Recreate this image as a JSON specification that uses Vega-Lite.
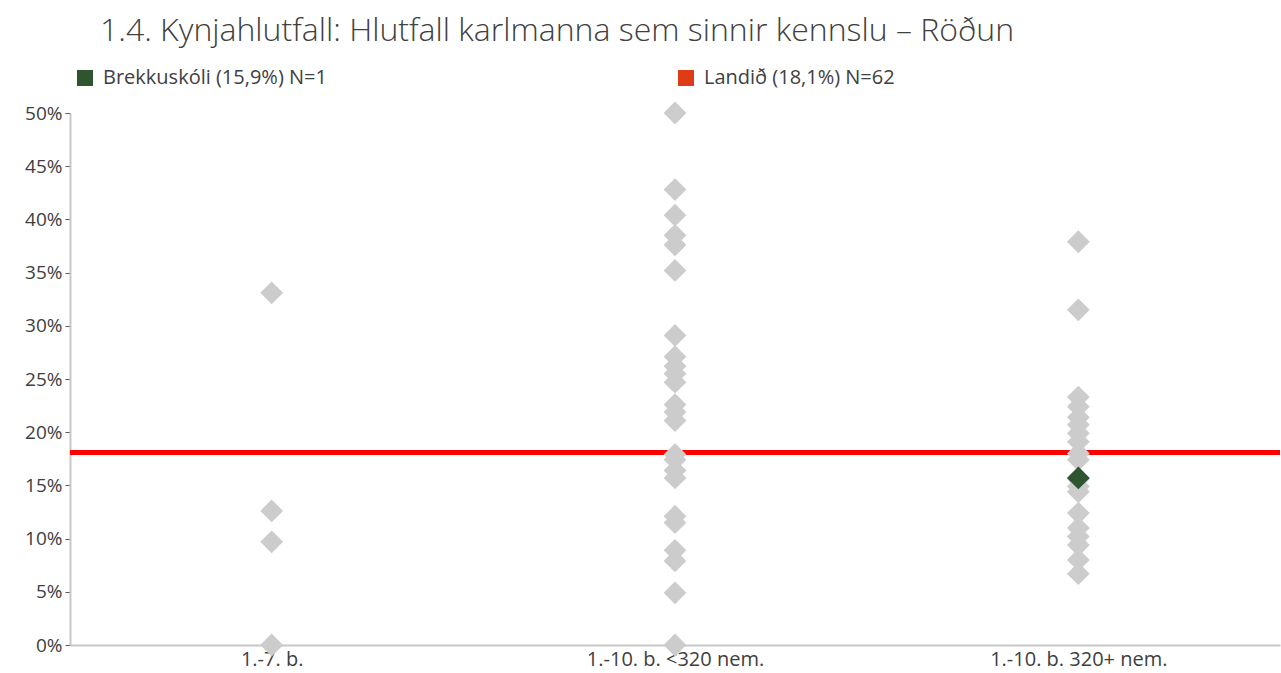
{
  "$schema": "https://vega.github.io/schema/vega-lite/v6.json",
  "autosize": {"type": "none"},
  "width": 1210,
  "height": 532,
  "padding": {"left": 70, "top": 113, "right": 1, "bottom": 28},
  "background": "white",
  "title": {
    "text": "1.4. Kynjahlutfall: Hlutfall karlmanna sem sinnir kennslu – Röðun",
    "anchor": "start",
    "frame": "group",
    "dx": 30,
    "offset": 20,
    "font": "Open Sans",
    "fontSize": 32,
    "fontWeight": 300,
    "color": "#404040"
  },
  "config": {
    "view": {"stroke": null},
    "font": "Open Sans"
  },
  "datasets": {
    "schools": [
      {"group": "1.-7. b.", "value": 0.331},
      {"group": "1.-7. b.", "value": 0.126},
      {"group": "1.-7. b.", "value": 0.097},
      {"group": "1.-7. b.", "value": 0.0},
      {"group": "1.-10. b. <320 nem.", "value": 0.5},
      {"group": "1.-10. b. <320 nem.", "value": 0.428},
      {"group": "1.-10. b. <320 nem.", "value": 0.404},
      {"group": "1.-10. b. <320 nem.", "value": 0.385},
      {"group": "1.-10. b. <320 nem.", "value": 0.376},
      {"group": "1.-10. b. <320 nem.", "value": 0.352},
      {"group": "1.-10. b. <320 nem.", "value": 0.291},
      {"group": "1.-10. b. <320 nem.", "value": 0.271},
      {"group": "1.-10. b. <320 nem.", "value": 0.262},
      {"group": "1.-10. b. <320 nem.", "value": 0.255},
      {"group": "1.-10. b. <320 nem.", "value": 0.247},
      {"group": "1.-10. b. <320 nem.", "value": 0.226},
      {"group": "1.-10. b. <320 nem.", "value": 0.219},
      {"group": "1.-10. b. <320 nem.", "value": 0.211},
      {"group": "1.-10. b. <320 nem.", "value": 0.179},
      {"group": "1.-10. b. <320 nem.", "value": 0.174},
      {"group": "1.-10. b. <320 nem.", "value": 0.164},
      {"group": "1.-10. b. <320 nem.", "value": 0.157},
      {"group": "1.-10. b. <320 nem.", "value": 0.121},
      {"group": "1.-10. b. <320 nem.", "value": 0.115},
      {"group": "1.-10. b. <320 nem.", "value": 0.089},
      {"group": "1.-10. b. <320 nem.", "value": 0.079},
      {"group": "1.-10. b. <320 nem.", "value": 0.049},
      {"group": "1.-10. b. <320 nem.", "value": 0.0},
      {"group": "1.-10. b. 320+ nem.", "value": 0.379},
      {"group": "1.-10. b. 320+ nem.", "value": 0.315},
      {"group": "1.-10. b. 320+ nem.", "value": 0.233},
      {"group": "1.-10. b. 320+ nem.", "value": 0.224},
      {"group": "1.-10. b. 320+ nem.", "value": 0.214},
      {"group": "1.-10. b. 320+ nem.", "value": 0.207},
      {"group": "1.-10. b. 320+ nem.", "value": 0.199},
      {"group": "1.-10. b. 320+ nem.", "value": 0.191},
      {"group": "1.-10. b. 320+ nem.", "value": 0.18},
      {"group": "1.-10. b. 320+ nem.", "value": 0.174},
      {"group": "1.-10. b. 320+ nem.", "value": 0.156},
      {"group": "1.-10. b. 320+ nem.", "value": 0.149},
      {"group": "1.-10. b. 320+ nem.", "value": 0.144},
      {"group": "1.-10. b. 320+ nem.", "value": 0.124},
      {"group": "1.-10. b. 320+ nem.", "value": 0.11},
      {"group": "1.-10. b. 320+ nem.", "value": 0.102},
      {"group": "1.-10. b. 320+ nem.", "value": 0.094},
      {"group": "1.-10. b. 320+ nem.", "value": 0.08},
      {"group": "1.-10. b. 320+ nem.", "value": 0.067}
    ],
    "school": [
      {"group": "1.-10. b. 320+ nem.", "value": 0.157, "label": "Brekkuskóli (15,9%) N=1"}
    ],
    "national": [
      {"value": 0.181, "label": "Landið (18,1%) N=62"}
    ]
  },
  "layer": [
    {
      "data": {"name": "national"},
      "mark": {"type": "rule", "strokeWidth": 5},
      "encoding": {
        "y": {"field": "value", "type": "quantitative"},
        "stroke": {
          "field": "label",
          "type": "nominal",
          "scale": {"range": ["#ff0000"]},
          "legend": {
            "title": null,
            "orient": "none",
            "legendX": 606,
            "legendY": -45,
            "symbolType": "square",
            "symbolSize": 256,
            "symbolStrokeWidth": 0,
            "labelFont": "Open Sans",
            "labelFontSize": 20,
            "labelOffset": 8,
            "labelLimit": 400,
            "labelColor": "#404040",
            "padding": 0,
            "encode": {"symbols": {"update": {"fill": {"value": "#dd3c16"}, "fillOpacity": {"value": 1}, "strokeWidth": {"value": 0}}}}
          }
        }
      }
    },
    {
      "data": {"name": "schools"},
      "mark": {"type": "point", "shape": "diamond", "filled": true, "size": 520, "color": "#cccccc", "opacity": 1},
      "encoding": {
        "x": {
          "field": "group",
          "type": "nominal",
          "sort": ["1.-7. b.", "1.-10. b. <320 nem.", "1.-10. b. 320+ nem."],
          "scale": {"domain": ["1.-7. b.", "1.-10. b. <320 nem.", "1.-10. b. 320+ nem."], "paddingInner": 0, "paddingOuter": 0},
          "axis": {
            "title": null,
            "labelAngle": 0,
            "labelFont": "Open Sans",
            "labelFontSize": 20,
            "labelColor": "#404040",
            "labelPadding": 4,
            "ticks": false,
            "domainColor": "#c8c8c8",
            "domainWidth": 2,
            "grid": false
          }
        },
        "y": {
          "field": "value",
          "type": "quantitative",
          "scale": {"domain": [0, 0.5], "nice": false},
          "axis": {
            "title": null,
            "format": ".0%",
            "values": [0, 0.05, 0.1, 0.15, 0.2, 0.25, 0.3, 0.35, 0.4, 0.45, 0.5],
            "labelFont": "Open Sans",
            "labelFontSize": 19,
            "labelColor": "#404040",
            "labelPadding": 3,
            "tickColor": "#595959",
            "tickSize": 5,
            "tickWidth": 1,
            "domainColor": "#c8c8c8",
            "domainWidth": 2,
            "grid": false
          }
        }
      }
    },
    {
      "data": {"name": "school"},
      "mark": {"type": "point", "shape": "diamond", "filled": true, "size": 520, "opacity": 1},
      "encoding": {
        "x": {"field": "group", "type": "nominal"},
        "y": {"field": "value", "type": "quantitative"},
        "fill": {
          "field": "label",
          "type": "nominal",
          "scale": {"range": ["#2e5430"]},
          "legend": {
            "title": null,
            "orient": "none",
            "legendX": 5,
            "legendY": -45,
            "symbolType": "square",
            "symbolSize": 256,
            "labelFont": "Open Sans",
            "labelFontSize": 20,
            "labelOffset": 8,
            "labelLimit": 400,
            "labelColor": "#404040",
            "padding": 0
          }
        }
      }
    }
  ]
}
